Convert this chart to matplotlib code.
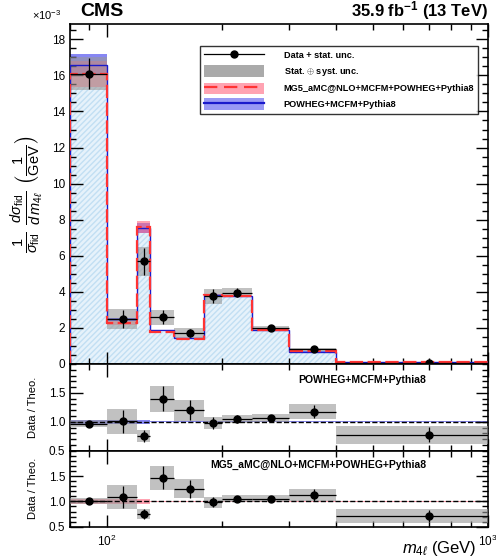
import numpy as np
import matplotlib
matplotlib.use("Agg")
import matplotlib.pyplot as plt
from matplotlib.patches import Patch
from matplotlib.lines import Line2D
from matplotlib.ticker import MultipleLocator, FixedLocator, NullFormatter

plt.rcParams['font.family'] = ['Liberation Sans', 'DejaVu Sans']
plt.rcParams['mathtext.fontset'] = 'custom'
plt.rcParams['mathtext.rm'] = 'Liberation Sans'
plt.rcParams['mathtext.it'] = 'Liberation Sans:italic'
plt.rcParams['mathtext.bf'] = 'Liberation Sans:bold'

# bin edges in m4l (GeV)
edges = [80, 100, 120, 130, 150, 180, 200, 240, 300, 400, 1000]

# data (x 1e-3 / GeV)
data = [16.1, 2.5, 5.7, 2.6, 1.72, 3.76, 3.95, 2.0, 0.81, 0.07]
data_stat = [0.85, 0.5, 0.75, 0.4, 0.24, 0.38, 0.24, 0.12, 0.08, 0.012]
data_tot = [0.92, 0.55, 0.8, 0.42, 0.26, 0.41, 0.26, 0.13, 0.09, 0.014]

# predictions
powheg = [16.6, 2.48, 7.54, 1.86, 1.43, 3.84, 3.76, 1.89, 0.69, 0.09]
mg5 = [16.1, 2.29, 7.6, 1.77, 1.38, 3.84, 3.76, 1.9, 0.72, 0.099]
# relative theory uncertainty
powheg_rel = [0.035, 0.035, 0.035, 0.01, 0.01, 0.01, 0.01, 0.01, 0.01, 0.01]
mg5_rel = [0.045, 0.045, 0.045, 0.01, 0.01, 0.01, 0.01, 0.01, 0.01, 0.01]

edges = np.array(edges, float)
data = np.array(data); data_stat = np.array(data_stat); data_tot = np.array(data_tot)
powheg = np.array(powheg); mg5 = np.array(mg5)
powheg_rel = np.array(powheg_rel); mg5_rel = np.array(mg5_rel)
centers = 0.5 * (edges[1:] + edges[:-1])
xlo = centers - edges[:-1]
xhi = edges[1:] - centers

W, H = 496, 556
fig = plt.figure(figsize=(W / 100, H / 100), dpi=100)
L, R = 70 / W, 488 / W
ax = fig.add_axes([L, 1 - 364 / H, R - L, 340 / H])
ax1 = fig.add_axes([L, 1 - 450.7 / H, R - L, 86.7 / H], sharex=ax)
ax2 = fig.add_axes([L, 1 - 526.7 / H, R - L, 76 / H], sharex=ax)

blue = '#1a1acc'
blue_band = '#5555ee'
red = '#ff3333'
red_band = '#ff6680'


def band(a, vals, rel, color, alpha):
    lo = vals * (1 - rel)
    hi = vals * (1 + rel)
    a.stairs(hi, edges, baseline=lo, fill=True, color=color, alpha=alpha, lw=0)


def boxes(a, y, err):
    for i in range(len(y)):
        a.fill_between([edges[i], edges[i + 1]], y[i] - err[i], y[i] + err[i],
                       color='#999999', alpha=0.6, lw=0, zorder=3)


# main panel
ax.stairs(mg5 * (1 - mg5_rel), edges, fill=True, facecolor='#e6f2fb',
          edgecolor='#c2dff3', hatch='//////', lw=0, zorder=1)
band(ax, powheg, powheg_rel, blue_band, 0.7)
band(ax, mg5, mg5_rel, red_band, 0.6)
ax.stairs(powheg, edges, color=blue, lw=1.0, zorder=4)
ax.stairs(mg5, edges, color=red, lw=1.6, ls=(0, (6, 2)), zorder=4)
boxes(ax, data, data_tot)
ax.errorbar(centers, data, yerr=data_stat, xerr=[xlo, xhi], fmt='o', color='black',
            ms=5, lw=0.9, capsize=0, zorder=6)

# ratio panels
r1 = data / powheg
r2 = data / mg5
band(ax1, np.ones(10), powheg_rel, blue_band, 0.7)
boxes(ax1, r1, data_tot / powheg)
ax1.axhline(1, color='black', ls='--', lw=1, zorder=5)
ax1.errorbar(centers, r1, yerr=data_stat / powheg, xerr=[xlo, xhi], fmt='o', color='black',
             ms=5, lw=0.9, capsize=0, zorder=6)

band(ax2, np.ones(10), mg5_rel, red_band, 0.6)
boxes(ax2, r2, data_tot / mg5)
ax2.axhline(1, color='black', ls='--', lw=1, zorder=5)
ax2.errorbar(centers, r2, yerr=data_stat / mg5, xerr=[xlo, xhi], fmt='o', color='black',
             ms=5, lw=0.9, capsize=0, zorder=6)

ax.set_xscale('log')
ax.set_xlim(80, 1000)
ax.set_ylim(0, 18.85)
ax.yaxis.set_major_locator(MultipleLocator(2))
ax.yaxis.set_minor_locator(MultipleLocator(0.5))

for a in (ax1, ax2):
    a.set_ylim(0.5, 2.0)
    a.yaxis.set_major_locator(FixedLocator([0.5, 1, 1.5]))
    a.yaxis.set_minor_locator(MultipleLocator(0.1))
    a.set_ylabel('Data / Theo.', fontsize=8, labelpad=8)

for a in (ax, ax1, ax2):
    a.tick_params(which='both', direction='in', top=True, right=True, labelsize=8.5, width=1)
    a.tick_params(which='major', length=9)
    a.tick_params(which='minor', length=4.5)
    for s in a.spines.values():
        s.set_linewidth(1.2)
    a.xaxis.set_minor_formatter(NullFormatter())

ax.tick_params(labelbottom=False)
ax1.tick_params(labelbottom=False)
ax2.set_xticks([100, 1000])
ax2.set_xticklabels(['10$^2$', '10$^3$'])
ax2.tick_params(axis='x', pad=5)

ax.set_ylabel(r'$\frac{1}{\sigma_{\rm fid}}\ \frac{d\sigma_{\rm fid}}{d\,m_{4\ell}}\ \left(\frac{1}{\rm GeV}\right)$',
              fontsize=15, labelpad=4)
ax.text(-0.02, 1.005, r'$\times 10^{-3}$', transform=ax.transAxes, ha='right', va='bottom', fontsize=8)

fig.text(80 / W, 1 - 11 / H, 'CMS', fontsize=14, fontweight='bold', va='center')
fig.text(488 / W, 1 - 11 / H, r'35.9 fb$^{\mathbf{-1}}$ (13 TeV)', fontsize=12, fontweight='bold',
         ha='right', va='center')
fig.text(476 / W, 1 - 548 / H, r'$m_{4\ell}$ (GeV)', fontsize=12, ha='right', va='center')

ax1.text(0.70, 0.82, 'POWHEG+MCFM+Pythia8', transform=ax1.transAxes, ha='center', va='center',
         fontsize=7.5, fontweight='bold')
ax2.text(0.595, 0.81, 'MG5_aMC@NLO+MCFM+POWHEG+Pythia8', transform=ax2.transAxes, ha='center',
         va='center', fontsize=7.5, fontweight='bold')

# legend
h_data = Line2D([], [], color='black', marker='o', ms=5, lw=0.9)
h_syst = Patch(facecolor='#aaaaaa', edgecolor='none')
h_mg5 = (Patch(facecolor=red_band, alpha=0.6, edgecolor='none'),
         Line2D([], [], color=red, lw=1.6, ls=(0, (6, 3))))
h_pow = (Patch(facecolor=blue_band, alpha=0.6, edgecolor='none'),
         Line2D([], [], color=blue, lw=1.6))
leg = ax.legend([h_data, h_syst, h_mg5, h_pow],
                ['Data + stat. unc.', r'Stat. $\oplus$ syst. unc.',
                 'MG5_aMC@NLO+MCFM+POWHEG+Pythia8', 'POWHEG+MCFM+Pythia8'],
                loc='upper right', bbox_to_anchor=(483 / W, 1 - 41 / H), bbox_transform=fig.transFigure,
                prop={'size': 6.6, 'weight': 'bold'}, fancybox=False, edgecolor='black',
                handlelength=6.5, handleheight=1.5, borderpad=0.45, labelspacing=0.5, handletextpad=2.2)
leg.get_frame().set_linewidth(1)
leg.set_zorder(10)

fig.savefig('out.png', dpi=100)
